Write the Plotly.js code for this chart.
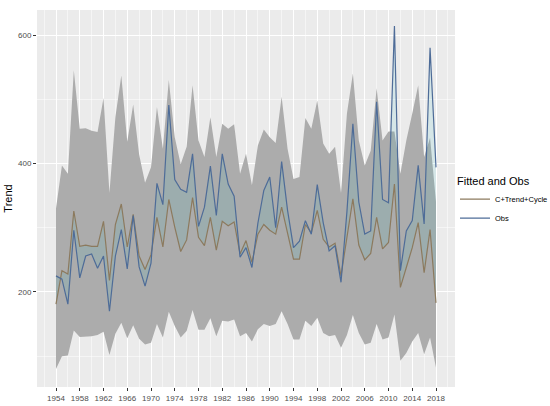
<!DOCTYPE html>
<html>
<head>
<meta charset="utf-8">
<script src="https://cdn.plot.ly/plotly-3.0.1.min.js"></script>
<style>html,body{margin:0;padding:0;background:#fff;}#chart{width:550px;height:406px;}</style>
</head>
<body>
<div id="chart"></div>
<script>
const years = [1954,1955,1956,1957,1958,1959,1960,1961,1962,1963,1964,1965,1966,1967,1968,1969,1970,1971,1972,1973,1974,1975,1976,1977,1978,1979,1980,1981,1982,1983,1984,1985,1986,1987,1988,1989,1990,1991,1992,1993,1994,1995,1996,1997,1998,1999,2000,2001,2002,2003,2004,2005,2006,2007,2008,2009,2010,2011,2012,2013,2014,2015,2016,2017,2018];

const obs = [225,220,181,296,222,256,259,237,256,170,256,297,236,319,239,209,245,369,336,491,375,360,355,415,302,332,396,319,415,368,349,254,269,238,307,358,379,300,403,327,269,279,311,290,367,308,264,272,215,325,462,340,290,295,496,344,339,614,233,295,311,397,306,580,394];

const fitted = [181,233,228,326,271,273,271,271,310,218,305,337,270,321,256,235,258,316,270,344,301,263,281,347,285,272,316,265,310,303,309,259,280,246,290,305,296,290,332,290,251,251,305,292,327,282,270,276,225,285,345,273,250,260,316,267,277,368,207,238,269,308,230,297,183];

const lower = [80,100,101,140,130,130,131,133,138,102,135,152,128,148,127,118,121,150,129,169,147,129,139,172,141,141,159,131,155,154,157,131,136,123,142,150,147,150,170,150,126,126,155,147,160,136,131,133,113,133,164,136,118,121,150,126,129,165,93,105,123,136,103,129,82];

const upper = [330,397,384,545,454,455,451,449,502,354,472,537,434,492,414,370,394,488,423,530,441,399,426,522,436,410,472,410,462,454,461,384,415,366,428,453,441,432,504,423,376,379,471,454,498,431,415,426,354,478,540,436,397,420,517,436,450,450,384,436,478,522,410,440,340];

const seriesNames = ["C+Trend+Cycle", "Obs"];

const traces = [
  {x: years, y: lower, type: 'scatter', mode: 'lines', line: {width: 0, color: 'rgba(0,0,0,0)'}, showlegend: false, hoverinfo: 'skip'},
  {x: years, y: upper, type: 'scatter', mode: 'lines', line: {width: 0, color: 'rgba(0,0,0,0)'}, fill: 'tonexty', fillcolor: 'rgb(172,172,172)', showlegend: false, hoverinfo: 'skip'},
  {x: years, y: fitted, type: 'scatter', mode: 'lines', name: seriesNames[0], line: {color: 'rgb(140,122,94)', width: 1.2}},
  {x: years, y: obs, type: 'scatter', mode: 'lines', line: {width: 0, color: 'rgba(0,0,0,0)'}, fill: 'tonexty', fillcolor: 'rgba(0,191,196,0.09)', showlegend: false, hoverinfo: 'skip'},
  {x: years, y: obs, type: 'scatter', mode: 'lines', name: seriesNames[1], line: {color: 'rgb(78,108,152)', width: 1.2}}
];

const tickFont = {family: 'Liberation Sans, Arial, sans-serif', size: 8, color: '#4D4D4D'};

const layout = {
  width: 550, height: 406,
  margin: {l: 37, r: 95, t: 10, b: 19, autoexpand: false},
  paper_bgcolor: '#FFFFFF',
  plot_bgcolor: '#EBEBEB',
  font: {family: 'Liberation Sans, Arial, sans-serif'},
  xaxis: {
    range: [1950.8, 2021.2],
    tick0: 1954, dtick: 4,
    ticks: 'outside', ticklen: 3, tickcolor: '#333333', tickwidth: 1,
    tickfont: tickFont,
    showgrid: true, gridcolor: '#FFFFFF', gridwidth: 1,
    minor: {dtick: 2, tick0: 1954, showgrid: true, gridcolor: '#FFFFFF', gridwidth: 0.5},
    zeroline: false, showline: false
  },
  yaxis: {
    range: [52, 639],
    tick0: 0, dtick: 200,
    ticks: 'outside', ticklen: 3, tickcolor: '#333333', tickwidth: 1,
    tickfont: tickFont,
    showgrid: true, gridcolor: '#FFFFFF', gridwidth: 1,
    minor: {dtick: 100, tick0: 0, showgrid: true, gridcolor: '#FFFFFF', gridwidth: 0.5},
    zeroline: false, showline: false,
    title: {text: 'Trend', font: {size: 11, color: '#000000'}, standoff: 3}
  },
  legend: {
    x: 1.0, xanchor: 'left', y: 0.575, yanchor: 'top',
    bgcolor: 'rgba(0,0,0,0)',
    traceorder: 'normal',
    title: {text: 'Fitted and Obs', font: {size: 11, color: '#000000'}},
    font: {size: 7.5, color: '#000000'},
    itemwidth: 30,
    tracegroupgap: 0
  },
  showlegend: true
};

Plotly.newPlot('chart', traces, layout, {displayModeBar: false, staticPlot: true});
</script>
</body>
</html>
